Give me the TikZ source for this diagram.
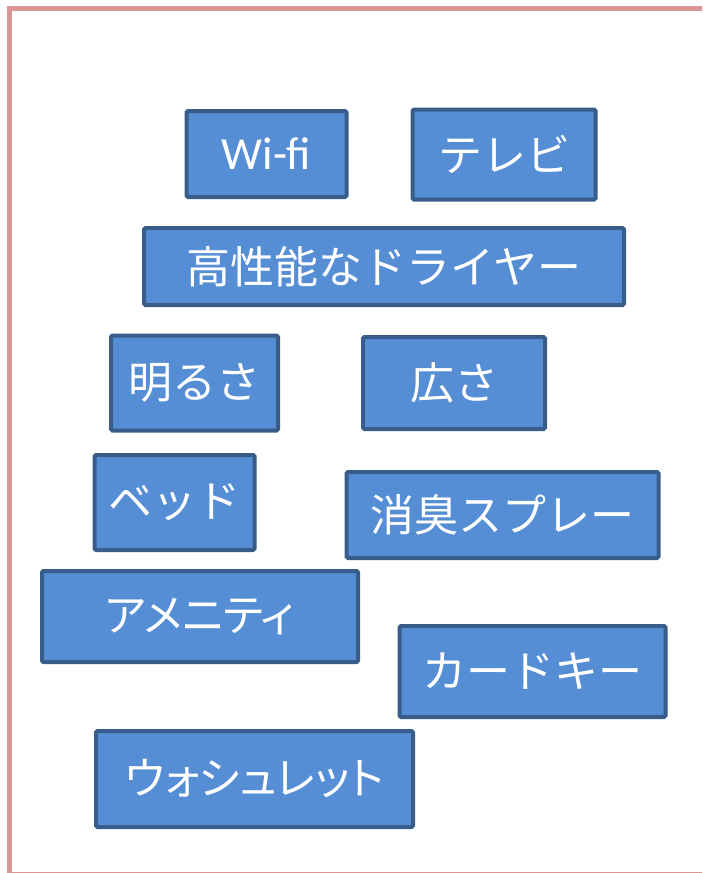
\documentclass[tikz,border=0pt]{standalone}
\usepackage{fontspec}
\newfontfamily\jp{Noto Sans CJK JP}
\newfontfamily\jpp[RawFeature=+palt]{Noto Sans CJK JP}
\newfontfamily\lat{Carlito}
\begin{document}
\begin{tikzpicture}[x=1pt,y=-1pt,
  item/.style={draw=boxline, fill=boxfill, line width=4pt, rounded corners=1.5pt,
    text=white, font=\jp\fontsize{44}{48}\selectfont, inner sep=0pt, anchor=center},
  narrow/.style={font=\jpp\fontsize{44}{48}\selectfont}]
\definecolor{boxfill}{HTML}{558ED5}
\definecolor{boxline}{HTML}{385D8A}
\definecolor{frame}{HTML}{DA9694}
\useasboundingbox (0,0) rectangle (702,873);
\begin{scope}
\clip (0,0) rectangle (702,873);
\draw[frame, line width=5pt] (9.5,8.5) rectangle (760,874.5);
\end{scope}
\node[item, minimum width=160pt, minimum height=86pt, font=\lat\fontsize{46}{50}\selectfont] (wifi) at (266.5,154) {Wi-fi};
\node[item, minimum width=183pt, minimum height=90pt] (tv) at (504,154.5) {テレビ};
\node[item, minimum width=480pt, minimum height=77pt] (dryer) at (384,266.5) {高性能なドライヤー};
\node[item, minimum width=167pt, minimum height=95pt] (bright) at (194.5,383) {明るさ};
\node[item, minimum width=182pt, minimum height=92pt] (wide) at (454,383) {広さ};
\node[item, minimum width=160pt, minimum height=95pt] (bed) at (174.5,502.5) {ベッド};
\node[item, minimum width=312pt, minimum height=86pt] (spray) at (502.5,515) {消臭スプレー};
\node[item, narrow, minimum width=316pt, minimum height=91pt] (amenity) at (200,616.5) {アメニティ};
\node[item, minimum width=266pt, minimum height=91pt] (card) at (532.5,671.5) {カードキー};
\node[item, narrow, minimum width=317pt, minimum height=96pt] (washlet) at (254.5,779) {ウォシュレット};
\end{tikzpicture}
\end{document}
